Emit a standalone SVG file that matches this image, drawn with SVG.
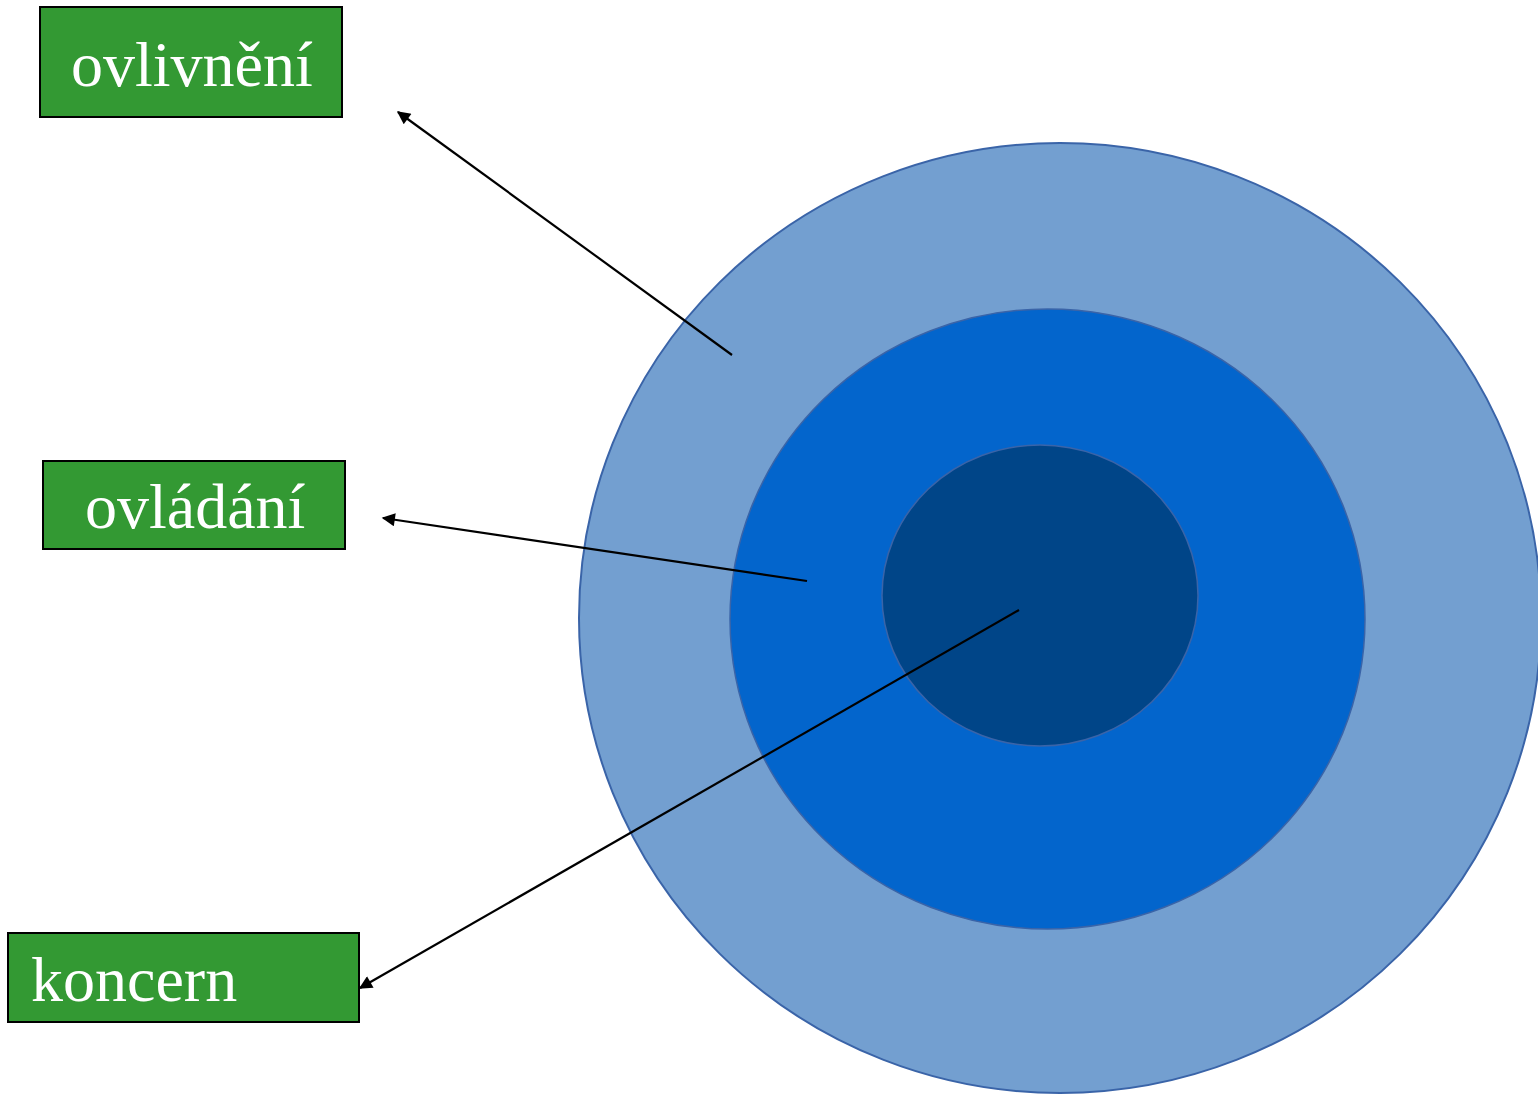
<svg xmlns="http://www.w3.org/2000/svg" width="1538" height="1094" viewBox="0 0 1538 1094">
<style>
.box{fill:#339933;stroke:#000;stroke-width:2}
.lbl{font-family:"Liberation Serif","Times New Roman",serif;font-size:64px;fill:#fff}
.con{stroke:#000;stroke-width:2.2;fill:none;marker-end:url(#ah)}
</style>
<defs>
<marker id="ah" viewBox="0 0 10 10" refX="9" refY="5" markerWidth="7.5" markerHeight="6" markerUnits="strokeWidth" orient="auto">
<path d="M0,0 L10,5 L0,10 z" fill="#000"/>
</marker>
</defs>
<g id="circles">
<ellipse id="outer" cx="1060" cy="618" rx="481" ry="475" fill="#739fd0" stroke="#3a64a8" stroke-width="2"/>
<ellipse id="middle" cx="1047.5" cy="619" rx="317.5" ry="310" fill="#0365cc" stroke="#3a64a8" stroke-width="1.5"/>
<ellipse id="inner" cx="1040" cy="595.5" rx="158" ry="150.5" fill="#004588" stroke="#3a64a8" stroke-width="1.5"/>
</g>
<g id="connectors">
<line class="con" x1="732" y1="355" x2="398" y2="112"/>
<line class="con" x1="807" y1="581" x2="383" y2="518"/>
<line class="con" x1="1019" y1="610" x2="360" y2="988"/>
</g>
<g id="n1">
<rect class="box" x="40" y="7" width="302" height="110"/>
<text class="lbl" x="71" y="86">ovlivnění</text>
</g>
<g id="n2">
<rect class="box" x="43" y="461" width="302" height="88"/>
<text class="lbl" x="85" y="528">ovládání</text>
</g>
<g id="n3">
<rect class="box" x="8" y="933" width="351" height="89"/>
<text class="lbl" x="31" y="1001">koncern</text>
</g>
</svg>
